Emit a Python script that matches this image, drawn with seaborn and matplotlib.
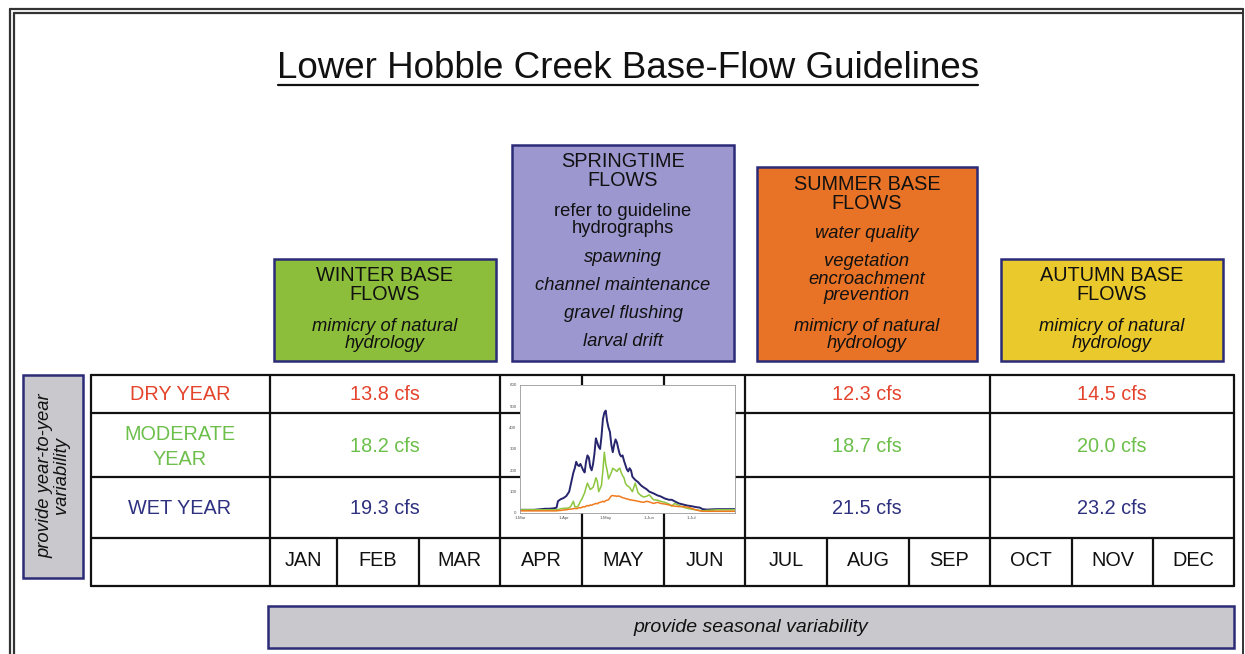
import pandas as pd
import matplotlib
matplotlib.use('Agg')
import matplotlib.pyplot as plt
import seaborn as sns
from matplotlib.patches import Rectangle

# ---- chart content ----
title = 'Lower Hobble Creek Base-Flow Guidelines'
months = ['JAN', 'FEB', 'MAR', 'APR', 'MAY', 'JUN',
          'JUL', 'AUG', 'SEP', 'OCT', 'NOV', 'DEC']
year_types = ['DRY YEAR', 'MODERATE\nYEAR', 'WET YEAR']
winter_flows = [13.8, 18.2, 19.3]
summer_flows = [12.3, 18.7, 21.5]
autumn_flows = [14.5, 20.0, 23.2]

season_titles = ['WINTER BASE\nFLOWS', 'SPRINGTIME\nFLOWS', 'SUMMER BASE\nFLOWS', 'AUTUMN BASE\nFLOWS']
winter_notes = ['mimicry of natural\nhydrology']
spring_notes = ['refer to guideline\nhydrographs', 'spawning', 'channel maintenance',
                'gravel flushing', 'larval drift']
summer_notes = ['water quality', 'vegetation\nencroachment\nprevention', 'mimicry of natural\nhydrology']
autumn_notes = ['mimicry of natural\nhydrology']

side_note = 'provide year-to-year\nvariability'
bottom_note = 'provide seasonal variability'

# guideline hydrograph (days after 1-Mar, cfs)
hydro_days = [0, 5, 10, 15, 18, 21, 24, 26, 27, 29, 31, 33, 35, 36, 38, 39, 40, 41, 42, 43,
              44, 45, 46, 47, 48, 49, 50, 51, 52, 53, 54, 55, 56, 57, 58, 59, 60, 61, 62, 63,
              64, 65, 66, 67, 68, 69, 70, 71, 72, 73, 74, 75, 76, 77, 78, 79, 80, 82, 84, 86,
              88, 90, 92, 95, 98, 100, 103, 106, 108, 110, 113, 116, 119, 122, 125, 128, 130, 133,
              140, 145, 153]
wet_flow = [15, 15, 15, 18, 20, 20, 22, 25, 55, 65, 70, 80, 100, 130, 190, 210, 240, 225, 220, 230,
            215, 200, 190, 240, 270, 260, 215, 200, 230, 280, 350, 330, 310, 300, 360, 440, 470, 480, 430, 400,
            380, 320, 285, 320, 345, 330, 300, 275, 265, 270, 245, 225, 205, 195, 210, 200, 170, 155, 145, 130,
            120, 112, 100, 92, 82, 78, 68, 62, 62, 55, 45, 40, 35, 32, 28, 25, 18, 16,
            18, 18, 18]
moderate_flow = [15, 15, 15, 15, 15, 15, 15, 15, 16, 20, 22, 22, 25, 30, 55, 30, 28, 30, 40, 55,
                 65, 80, 95, 120, 140, 125, 110, 115, 120, 140, 165, 150, 100, 115, 130, 200, 285, 230, 200, 160,
                 175, 190, 210, 205, 200, 195, 205, 210, 190, 175, 165, 140, 130, 125, 120, 110, 100, 140, 95, 82,
                 75, 78, 85, 62, 60, 55, 50, 42, 32, 45, 35, 28, 22, 18, 15, 12, 10, 12,
                 15, 15, 15]
dry_flow = [10, 10, 10, 10, 10, 10, 10, 10, 11, 12, 14, 15, 18, 18, 20, 22, 20, 22, 25, 24,
            26, 30, 28, 32, 35, 33, 38, 36, 40, 42, 45, 43, 48, 50, 52, 55, 52, 58, 60, 62,
            72, 80, 82, 80, 80, 78, 80, 78, 75, 72, 70, 68, 66, 65, 62, 62, 60, 58, 55, 52,
            50, 55, 52, 45, 50, 45, 42, 38, 35, 32, 30, 30, 28, 22, 15, 10, 8, 8,
            8, 8, 8]
hydro_ticks = [0, 31, 61, 92, 122]
hydro_ticklabels = ['1-Mar', '1-Apr', '1-May', '1-Jun', '1-Jul']

# ---- style ----
sns.set_theme(style='white')
plt.rcParams['font.family'] = ['Liberation Sans', 'DejaVu Sans']

navy = '#2b2b78'
row_colors = ['#e4432c', '#6cbf4a', '#2e3080']
box_fills = ['#8dbe3b', '#9c98cf', '#e87326', '#eac92c']
grey_fill = '#c9c8cc'

fig = plt.figure(figsize=(12.45, 6.54), dpi=100)
ax = fig.add_axes([0, 0, 1, 1])
ax.set_xlim(0, 1245)
ax.set_ylim(654, 0)
ax.axis('off')

# page frame (double line)
for off in (10, 14):
    ax.plot([off, off], [654, off - 1], color='#333333', lw=1.6)
    ax.plot([off, 1243], [off - 1, off - 1], color='#333333', lw=1.6)
ax.plot([1243, 1243], [9, 654], color='#333333', lw=1.4)

# title
ax.text(628, 69, title, fontsize=26.5, ha='center', va='center', color='#111111')
ax.plot([278, 978], [85, 85], color='#111111', lw=1.6)

# season boxes
box_rects = [(274, 259, 222, 102), (512, 145, 222, 216), (757, 167, 220, 194), (1001, 259, 222, 102)]
for (x, y, w, h), fc in zip(box_rects, box_fills):
    ax.add_patch(Rectangle((x, y), w, h, facecolor=fc, edgecolor=navy, lw=1.8, zorder=2))

head_kw = dict(fontsize=14.3, ha='center', va='center', linespacing=1.03, color='#111111', zorder=3)
note_kw = dict(fontsize=13.2, ha='center', va='center', style='italic', linespacing=1.0,
               color='#111111', zorder=3)

ax.text(385, 285, season_titles[0], **head_kw)
ax.text(385, 335, winter_notes[0], **note_kw)

ax.text(623, 171, season_titles[1], **head_kw)
for note, y in zip(spring_notes, [220, 257, 286, 314, 342]):
    ax.text(623, y, note, **(note_kw | dict(style='normal') if '\n' in note else note_kw))

ax.text(867, 194, season_titles[2], **head_kw)
for note, y in zip(summer_notes, [233, 279, 335]):
    ax.text(867, y, note, **note_kw)

ax.text(1112, 285, season_titles[3], **head_kw)
ax.text(1112, 335, autumn_notes[0], **note_kw)

# side / bottom notes
ax.add_patch(Rectangle((23, 375), 60, 203, facecolor=grey_fill, edgecolor=navy, lw=1.8))
ax.text(53, 476, side_note, rotation=90, fontsize=13.2, style='italic', ha='center', va='center',
        linespacing=1.0, color='#111111')
ax.add_patch(Rectangle((268, 606), 966, 42, facecolor=grey_fill, edgecolor=navy, lw=1.8))
ax.text(751, 627, bottom_note, fontsize=14, style='italic', ha='center', va='center', color='#111111')

# table grid
rows = [375, 413, 477, 538, 586]
left, label_right, right = 91, 270, 1234
col_edges = [270, 337, 419, 500, 582, 664, 745, 827, 909, 990, 1072, 1153, 1234]
grid_kw = dict(color='#111111', lw=1.6, zorder=1)
for y in rows:
    ax.plot([left, right], [y, y], **grid_kw)
for x in [left, 270, 500, 582, 664, 745, 990, right]:
    ax.plot([x, x], [rows[0], rows[3]], **grid_kw)
for x in [left] + col_edges:
    ax.plot([x, x], [rows[3], rows[4]], **grid_kw)

cell_kw = dict(fontsize=14.3, ha='center', va='center')
row_centres = [395, 447, 509]
for name, y, c in zip(year_types, row_centres, row_colors):
    ax.text(180, y, name, color=c, linespacing=1.35, **cell_kw)
for flows, xc in zip([winter_flows, summer_flows, autumn_flows], [385, 867, 1112]):
    for v, y, c in zip(flows, row_centres, row_colors):
        ax.text(xc, y, f'{v:.1f} cfs', color=c, **cell_kw)
for i, m in enumerate(months):
    ax.text((col_edges[i] + col_edges[i + 1]) / 2, 560, m, color='#111111', **cell_kw)

# inset guideline hydrograph
hydro = pd.DataFrame({
    'day': hydro_days * 3,
    'flow': wet_flow + moderate_flow + dry_flow,
    'year': ['wet'] * len(hydro_days) + ['moderate'] * len(hydro_days) + ['dry'] * len(hydro_days),
})
iax = fig.add_axes([520 / 1245, 1 - 513 / 654, 215 / 1245, 128 / 654])
iax.set_facecolor('white')
sns.lineplot(data=hydro, x='day', y='flow', hue='year', ax=iax, legend=False,
             palette={'wet': '#26256e', 'moderate': '#8cc63f', 'dry': '#f07a1e'})
for line, lw in zip(iax.lines, [1.4, 1.1, 1.1]):
    line.set_linewidth(lw)
iax.set_xlim(0, 153)
iax.set_ylim(0, 600)
iax.set_xticks(hydro_ticks)
iax.set_xticklabels(hydro_ticklabels)
iax.set_yticks(range(0, 601, 100))
iax.set_xlabel('')
iax.set_ylabel('')
iax.tick_params(labelsize=3.2, colors='#555555', length=1.5, width=0.4, pad=1)
for s in iax.spines.values():
    s.set_color('#999999')
    s.set_linewidth(0.6)

fig.savefig('out.png', dpi=100)
